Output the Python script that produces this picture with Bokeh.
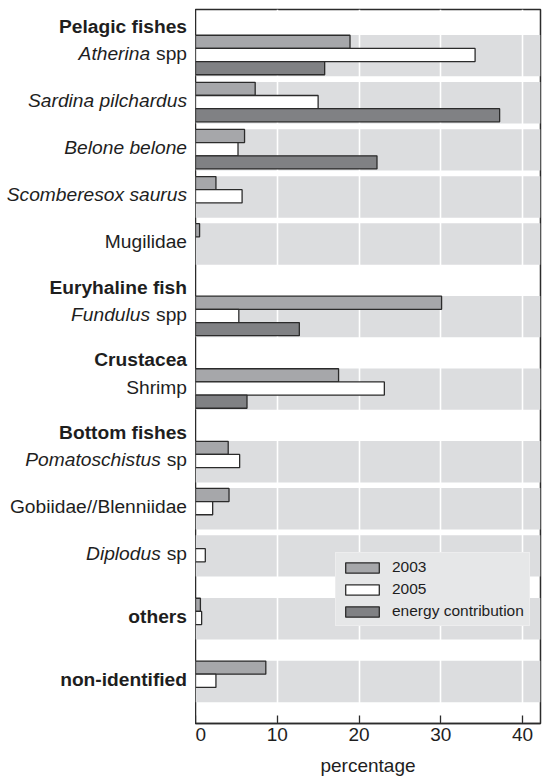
import math
from bokeh.plotting import figure
from bokeh.layouts import row
from bokeh.models import Range1d, FixedTicker, ColumnDataSource
from bokeh.core.properties import value
from bokeh.embed import file_html
from bokeh.resources import INLINE

NAN = float("nan")

# ---------------- data ----------------
categories = ["Atherina spp", "Sardina pilchardus", "Belone belone", "Scomberesox saurus",
              "Mugilidae", "Fundulus spp", "Shrimp", "Pomatoschistus sp",
              "Gobiidae//Blenniidae", "Diplodus sp", "others", "non-identified"]
# italic (genus / species) part of each label; the rest is upright
italic_part = ["Atherina", "Sardina pilchardus", "Belone belone", "Scomberesox saurus",
               "", "Fundulus", "", "Pomatoschistus", "", "Diplodus", "", ""]
bold_categories = ["others", "non-identified"]
# group headers, shown above the first category of each group
group_headers = ["Pelagic fishes", "Euryhaline fish", "Crustacea", "Bottom fishes"]
group_first = ["Atherina spp", "Fundulus spp", "Shrimp", "Pomatoschistus sp"]
blank_after = ["Diplodus sp", "others", "non-identified"]

series_names = ["2003", "2005", "energy contribution"]
values_2003 = [18.9, 7.3, 6.0, 2.5, 0.5, 30.1, 17.5, 4.0, 4.1, NAN, 0.6, 8.6]
values_2005 = [34.2, 15.0, 5.2, 5.7, NAN, 5.3, 23.1, 5.4, 2.1, 1.2, 0.75, 2.5]
values_energy = [15.8, 37.2, 22.2, NAN, NAN, 12.7, 6.3, NAN, NAN, NAN, NAN, NAN]

x_ticks = [0, 10, 20, 30, 40]
x_max = 42.2

# ---------------- layout ----------------
HEADER_H, SLOT_H, BLANK_H, BAR_H, BAND_H = 25.5, 47.2, 15.7, 13.2, 41.5
cat_top = []
header_pos = []
y = 0.0
for cat in categories:
    if cat in group_first:
        y += HEADER_H
        header_pos.append(y - 8.5)
    cat_top.append(y)
    y += SLOT_H
    if cat in blank_after:
        y += BLANK_H
total = y

FONT = "Liberation Sans"
DARK = "#2b2b2b"
TXT = "#1e1e1e"
fills = ["#a6a7aa", "#ffffff", "#808184"]
TOP, FRAME_H, BOTTOM, LEFT_W, FRAME_W, RIGHT = 9, 714, 53, 195, 345, 4

p = figure(frame_width=FRAME_W, frame_height=FRAME_H,
           x_range=Range1d(0, x_max), y_range=Range1d(total, 0),
           output_backend="svg", toolbar_location=None,
           min_border_left=0, min_border_top=TOP, min_border_right=RIGHT,
           min_border_bottom=BOTTOM)
p.background_fill_color = "white"
p.border_fill_color = "white"
p.outline_line_color = DARK
p.outline_line_width = 1.5

# grey bands behind each category
band_src = ColumnDataSource(dict(y=[t + BAND_H / 2 for t in cat_top]))
p.hbar(y="y", left=0, right=x_max * 1.05, height=BAND_H, source=band_src,
       fill_color="#dcdddf", line_color=None, level="image")

for k, (vals, name) in enumerate(zip([values_2003, values_2005, values_energy], series_names)):
    src = ColumnDataSource(dict(y=[t + 0.3 + BAR_H * (k + 0.5) for t in cat_top], right=vals))
    p.hbar(y="y", left=0, right="right", height=BAR_H, source=src,
           fill_color=fills[k], line_color=DARK, line_width=1.3, legend_label=name)

# axes / grid
p.yaxis.visible = False
p.ygrid.visible = False
p.xgrid.ticker = FixedTicker(ticks=x_ticks[1:])
p.xgrid.grid_line_color = "white"
p.xgrid.grid_line_width = 1.6
ax = p.xaxis[0]
ax.ticker = FixedTicker(ticks=x_ticks)
ax.major_tick_in = 8
ax.major_tick_out = 0
ax.minor_tick_in = 0
ax.minor_tick_out = 0
ax.axis_line_color = DARK
ax.axis_line_width = 1.5
ax.major_tick_line_color = DARK
ax.major_tick_line_width = 1.3
ax.major_label_text_font = FONT
ax.major_label_text_font_size = "19px"
ax.major_label_text_color = TXT
ax.major_label_standoff = 4
ax.axis_label = "percentage"
ax.axis_label_text_font = FONT
ax.axis_label_text_font_size = "19px"
ax.axis_label_text_font_style = "normal"
ax.axis_label_text_color = TXT
ax.axis_label_standoff = 11

lg = p.legend[0]
lg.location = (140, 97)
lg.margin = 0
lg.padding = 5
lg.spacing = 4
lg.glyph_width = 42
lg.glyph_height = 13
lg.label_height = 13
lg.label_standoff = 9
lg.label_text_font = FONT
lg.label_text_font_size = "15.5px"
lg.label_text_color = TXT
lg.background_fill_color = "#e6e7e8"
lg.background_fill_alpha = 1
lg.border_line_color = "#f4f4f4"
lg.border_line_width = 1.5

# ---------------- category labels (left panel sharing the y range) ----------------
CW = {" ": 0.278, "s": 0.5, "p": 0.556}
FS = 19.2
OFF = -8.5
GAP = 6.0
lab = dict(y=[], text=[], xoff=[], style=[])


def add_label(text, yv, xoff, style):
    lab["y"].append(yv)
    lab["text"].append(text)
    lab["xoff"].append(xoff)
    lab["style"].append(style)


for cat, top, ital in zip(categories, cat_top, italic_part):
    yc = top + 0.3 + 1.5 * BAR_H - 1.5
    if ital:
        suffix = cat[len(ital):].strip()
        if suffix:
            add_label(suffix, yc, OFF, "normal")
            w = sum(CW.get(c, 0.556) for c in suffix) * FS
            add_label(ital, yc, OFF - w - GAP, "italic")
        else:
            add_label(ital, yc, OFF, "italic")
    else:
        add_label(cat, yc, OFF, "bold" if cat in bold_categories else "normal")

for h, yv in zip(group_headers, header_pos):
    add_label(h, yv, OFF, "bold")

lf = figure(frame_width=LEFT_W, frame_height=FRAME_H,
            x_range=Range1d(-LEFT_W, 0), y_range=p.y_range,
            output_backend="svg", toolbar_location=None,
            min_border_left=0, min_border_right=0, min_border_top=TOP,
            min_border_bottom=BOTTOM)
lf.axis.visible = False
lf.grid.visible = False
lf.outline_line_color = None
lf.background_fill_color = "white"
lf.border_fill_color = "white"
lsrc = ColumnDataSource(dict(x=[0] * len(lab["y"]), **lab))
lf.text(x="x", y="y", text="text", x_offset="xoff", text_font_style="style",
        text_align="right", text_baseline="middle", text_font=value(FONT),
        text_font_size=value(f"{FS}px"), text_color=TXT, source=lsrc)

layout = row(lf, p, spacing=0)
open("out.html", "w").write(file_html(layout, INLINE))
